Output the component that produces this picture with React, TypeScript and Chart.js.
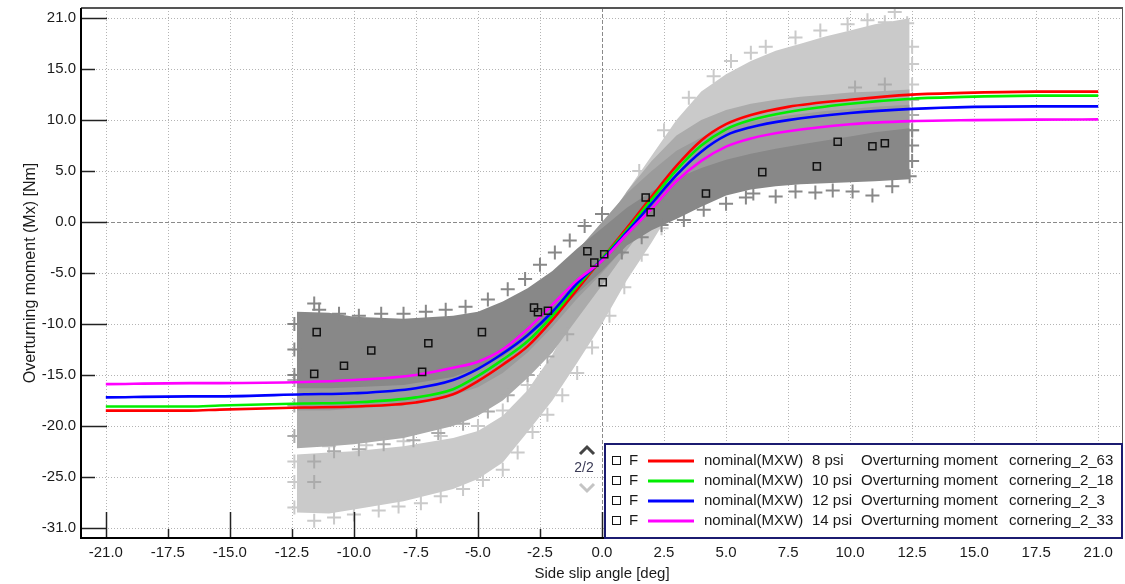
import React, { useEffect, useRef } from 'react';
import { Chart, registerables } from 'chart.js';

Chart.register(...registerables);

const FONT = '"Liberation Sans", Arial, sans-serif';

// ---- axis ticks ----
const X_TICKS = [-20, -17.5, -15, -12.5, -10, -7.5, -5, -2.5, 0, 2.5, 5, 7.5, 10, 12.5, 15, 17.5, 20];
const X_TICK_LABELS = ['-21.0', '-17.5', '-15.0', '-12.5', '-10.0', '-7.5', '-5.0', '-2.5', '0.0', '2.5', '5.0', '7.5', '10.0', '12.5', '15.0', '17.5', '21.0'];
const Y_TICKS = [-30, -25, -20, -15, -10, -5, 0, 5, 10, 15, 20];
const Y_TICK_LABELS = ['-31.0', '-25.0', '-20.0', '-15.0', '-10.0', '-5.0', '0.0', '5.0', '10.0', '15.0', '21.0'];

// ---- fitted curves ----
const CURVE_X = [-20, -16.6, -15.4, -12, -10, -7.5, -6, -5, -4, -3, -2, -1, 0, 1, 2, 3, 4, 5, 6, 7.5, 10, 12.5, 15, 17.5, 20];
const RED_8PSI = [-18.5, -18.5, -18.4, -18.2, -18.1, -17.7, -16.9, -15.6, -14.0, -12.2, -9.6, -6.6, -3.6, -0.6, 2.5, 5.5, 8.0, 9.6, 10.5, 11.3, 12.0, 12.5, 12.7, 12.8, 12.8];
const GREEN_10PSI = [-18.1, -18.1, -18.0, -17.8, -17.7, -17.2, -16.4, -15.1, -13.5, -11.7, -9.2, -6.3, -3.6, -0.8, 2.2, 5.1, 7.5, 9.1, 10.0, 10.8, 11.6, 12.1, 12.3, 12.4, 12.4];
const BLUE_12PSI = [-17.2, -17.1, -17.1, -16.9, -16.8, -16.3, -15.5, -14.4, -12.9, -11.1, -8.8, -6.0, -3.7, -1.0, 1.8, 4.6, 6.9, 8.5, 9.3, 10.0, 10.7, 11.1, 11.3, 11.35, 11.35];
const MAGENTA_14PSI = [-15.9, -15.8, -15.8, -15.7, -15.5, -15.0, -14.3, -13.7, -12.5, -10.5, -8.1, -5.7, -3.8, -1.2, 1.3, 4.0, 6.0, 7.4, 8.2, 8.9, 9.6, 9.9, 10.0, 10.05, 10.07];

// ---- measured clouds (envelopes) ----
const CLOUD_X = [-12.3, -11, -10, -8, -6, -5, -4, -3, -2, -1, 0, 1, 2, 3, 4, 5, 6, 7, 8, 9, 10, 11, 12.4];
const LIGHT_LOW = [-28.5, -28.6, -28.2, -27.4, -26.2, -25.2, -23.6, -20.6, -17.5, -13.8, -10.0, -5.7, -2.0, 2.0, 5.5, 8.0, 9.5, 10.5, 11.0, 11.3, 11.5, 11.8, 12.0];
const LIGHT_HIGH = [-22.8, -22.6, -22.5, -22.0, -21.2, -20.5, -19.0, -16.5, -13.0, -8.5, -2.0, 3.0, 6.5, 10.0, 12.8, 14.5, 15.8, 16.8, 17.5, 18.2, 18.8, 19.4, 20.0];
const MID_LOW = [-22.2, -22.0, -21.8, -21.2, -20.0, -19.0, -17.5, -15.3, -12.8, -9.5, -6.2, -2.8, 0.5, 3.0, 5.0, 6.5, 7.5, 8.0, 8.5, 8.8, 9.0, 9.3, 9.5];
const MID_HIGH = [-14.5, -14.5, -14.5, -14.3, -13.5, -12.7, -11.3, -9.3, -6.8, -3.8, -0.5, 3.0, 6.0, 8.5, 10.0, 11.0, 11.6, 12.0, 12.3, 12.5, 12.7, 12.8, 13.0];
const MIDDARK_LOW = [-18.5, -18.5, -18.3, -18.0, -17.0, -16.2, -14.8, -12.8, -10.3, -7.5, -5.0, -2.2, 0.5, 2.5, 4.0, 5.0, 5.6, 6.1, 6.5, 6.8, 7.0, 7.3, 7.5];
const MIDDARK_HIGH = [-11.5, -11.5, -11.5, -11.3, -10.8, -10.2, -9.2, -7.5, -5.3, -2.8, 0.0, 2.8, 5.0, 7.0, 8.3, 9.3, 9.9, 10.3, 10.6, 10.9, 11.1, 11.3, 11.5];
const DARK_LOW = [-16.3, -16.3, -16.2, -16.0, -15.2, -14.3, -13.2, -11.3, -9.3, -7.0, -4.8, -2.3, -0.8, 0.3, 1.5, 2.6, 3.2, 3.5, 3.7, 3.8, 3.9, 4.0, 4.2];
const DARK_HIGH = [-8.8, -8.9, -9.3, -9.5, -9.2, -8.8, -7.8, -6.5, -4.8, -2.6, -0.6, 1.4, 3.0, 4.3, 5.3, 6.1, 6.7, 7.2, 7.6, 8.0, 8.4, 8.8, 9.2];

// ---- stray measurement crosses at cloud edges ----
const LIGHT_CROSS_X = [1.5, 2.5, 3.5, 4.5, 5.2, 6.0, 6.6, 7.8, 8.8, 9.9, 10.7, 11.8, 11.4, 12.3, 12.5, 12.5, 12.5,
  -12.4, -12.4, -12.4, -11.6, -10.8, -10.0, -9.0, -8.2, -7.3, -6.5, -5.6, -4.8, -4.0, -3.4, -2.8, -2.2, -1.6, -1.0, -0.4, 0.3, 0.9, 1.6, 2.4,
  -11.0, -9.5, -8.0, -6.5, -5.0, -4.0, -3.0];
const LIGHT_CROSS_Y = [5.0, 9.0, 12.2, 14.3, 15.8, 16.6, 17.2, 18.1, 18.8, 19.4, 19.8, 20.6, 19.6, 19.5, 17.2, 15.5, 13.5,
  -28.0, -25.5, -23.5, -29.3, -29.0, -28.7, -28.3, -27.9, -27.6, -26.9, -26.2, -25.3, -24.3, -22.6, -20.6, -18.9, -17.0, -14.8, -12.3, -9.2, -6.4, -3.2, -0.6,
  -22.0, -21.9, -21.5, -21.0, -20.0, -18.5, -16.0];
const MID_CROSS_X = [-12.4, -12.4, -11.6, -11.6, -10.8, -9.8, -8.8, -7.6, -6.6, -5.6, -4.6, -3.8, -3.0, -2.2, -1.4, 12.5, 12.5, 11.4, 12.5, 10.2, -12.4];
const MID_CROSS_Y = [-21.0, -18.0, -23.5, -25.5, -22.5, -22.3, -21.8, -21.4, -20.7, -19.8, -18.6, -17.0, -15.0, -13.2, -11.0, 12.0, 10.5, 13.5, 9.0, 13.2, -15.5];
const DARK_CROSS_X = [-12.4, -12.4, -12.4, -11.6, -11.4, -10.6, -9.8, -8.9, -8.0, -7.1, -6.3, -5.5, -4.6, -3.8, -3.1, -2.5, -1.9, -1.3, -0.7, 0.0,
  0.8, 1.6, 2.4, 3.3, 4.1, 5.0, 5.8, 6.1, 7.0, 7.8, 8.6, 9.3, 10.1, 10.9, 11.7, 12.4, 12.5, 12.5, 12.5];
const DARK_CROSS_Y = [-10.0, -12.5, -15.0, -8.0, -8.6, -9.0, -9.2, -9.0, -9.0, -8.8, -8.6, -8.3, -7.6, -6.6, -5.6, -4.2, -3.0, -1.8, -0.4, 0.8,
  -3.0, -1.5, -0.3, 0.2, 1.2, 1.8, 2.4, 2.8, 2.5, 3.0, 2.9, 3.1, 3.0, 2.6, 3.5, 4.5, 6.0, 7.5, 9.0];

// ---- marked points (squares) ----
const SQUARE_X = [-11.5, -11.6, -10.4, -9.3, -7.0, -7.25, -4.84, -2.74, -2.58, -2.18, -0.59, -0.31, 0.09, 0.03, 1.76, 1.96, 4.19, 6.46, 8.66, 9.5, 10.9, 11.4];
const SQUARE_Y = [-10.8, -14.9, -14.1, -12.6, -11.9, -14.7, -10.8, -8.4, -8.85, -8.7, -2.86, -3.98, -3.16, -5.9, 2.4, 0.96, 2.8, 4.9, 5.46, 7.87, 7.43, 7.73];

// ---- legend text ----
const SERIES_MODEL = ['nominal(MXW)', 'nominal(MXW)', 'nominal(MXW)', 'nominal(MXW)'];
const SERIES_PRESSURE = ['8 psi', '10 psi', '12 psi', '14 psi'];
const SERIES_QUANTITY = 'Overturning moment';
const SERIES_RUN = ['cornering_2_63', 'cornering_2_18', 'cornering_2_3', 'cornering_2_33'];
const SERIES_COLORS = ['#ff0000', '#00ee00', '#0000ff', '#ff00ff'];
const SERIES_VALUES = [RED_8PSI, GREEN_10PSI, BLUE_12PSI, MAGENTA_14PSI];

const CLOUD_COLORS = { light: '#cacaca', mid: '#ababab', middark: '#9b9b9b', dark: '#888888' };

const pts = (xs: number[], ys: number[]) => xs.map((x, i) => ({ x, y: ys[i] }));

const band = (low: number[], high: number[], color: string, order: number, label: string) => [
  {
    label: label + '_low',
    data: pts(CLOUD_X, low),
    borderColor: 'rgba(0,0,0,0)',
    borderWidth: 0,
    pointRadius: 0,
    fill: false,
    tension: 0,
    order,
  },
  {
    label: label + '_high',
    data: pts(CLOUD_X, high),
    borderColor: 'rgba(0,0,0,0)',
    backgroundColor: color,
    borderWidth: 0,
    pointRadius: 0,
    fill: '-1',
    tension: 0,
    order,
  },
];

const crosses = (xs: number[], ys: number[], color: string, order: number, label: string) => ({
  label,
  data: pts(xs, ys),
  showLine: false,
  pointStyle: 'cross',
  pointRadius: 7,
  pointBorderWidth: 2,
  pointBorderColor: color,
  borderColor: color,
  order,
});

const decorPlugin = {
  id: 'decor',
  beforeDatasetsDraw(chart: any) {
    const { ctx, chartArea } = chart;
    const { left, right, top, bottom } = chartArea;
    const xs = chart.scales.x;
    const ys = chart.scales.y;
    ctx.save();
    ctx.lineWidth = 1;
    X_TICKS.forEach((v) => {
      const px = Math.round(xs.getPixelForValue(v)) + 0.5;
      ctx.beginPath();
      if (v === 0) {
        ctx.strokeStyle = '#8a8a8a';
        ctx.setLineDash([4, 2]);
      } else {
        ctx.strokeStyle = '#b4b4b4';
        ctx.setLineDash([1, 2]);
      }
      ctx.moveTo(px, top);
      ctx.lineTo(px, bottom);
      ctx.stroke();
    });
    Y_TICKS.forEach((v) => {
      const py = Math.round(ys.getPixelForValue(v)) + 0.5;
      ctx.beginPath();
      if (v === 0) {
        ctx.strokeStyle = '#8a8a8a';
        ctx.setLineDash([4, 2]);
      } else {
        ctx.strokeStyle = '#b4b4b4';
        ctx.setLineDash([1, 2]);
      }
      ctx.moveTo(left, py);
      ctx.lineTo(right, py);
      ctx.stroke();
    });
    ctx.restore();
  },
  afterDatasetsDraw(chart: any) {
    const { ctx, chartArea } = chart;
    const { left, right, top, bottom } = chartArea;
    const xs = chart.scales.x;
    const ys = chart.scales.y;
    ctx.save();
    ctx.setLineDash([]);
    ctx.strokeStyle = '#222';
    ctx.lineWidth = 1.5;
    X_TICKS.forEach((v) => {
      const px = Math.round(xs.getPixelForValue(v)) + 0.5;
      const len = Math.abs(v % 5) < 1e-9 ? 26 : 9;
      ctx.beginPath();
      ctx.moveTo(px, bottom);
      ctx.lineTo(px, bottom - len);
      ctx.stroke();
    });
    Y_TICKS.forEach((v) => {
      const py = Math.round(ys.getPixelForValue(v)) + 0.5;
      const len = Math.abs(v % 10) < 1e-9 ? 26 : 14;
      ctx.beginPath();
      ctx.moveTo(left, py);
      ctx.lineTo(left + len, py);
      ctx.stroke();
    });
    ctx.strokeStyle = '#555';
    ctx.lineWidth = 2;
    ctx.beginPath();
    ctx.moveTo(left, top);
    ctx.lineTo(right, top);
    ctx.stroke();
    ctx.lineWidth = 1;
    ctx.beginPath();
    ctx.moveTo(right - 0.5, top);
    ctx.lineTo(right - 0.5, bottom);
    ctx.stroke();
    ctx.strokeStyle = '#000';
    ctx.lineWidth = 2;
    ctx.beginPath();
    ctx.moveTo(left, top);
    ctx.lineTo(left, bottom);
    ctx.lineTo(right, bottom);
    ctx.stroke();
    ctx.restore();
  },
  afterDraw(chart: any) {
    const { ctx, chartArea } = chart;
    const boxL = 604;
    const boxT = 443;
    const boxR = chartArea.right;
    const boxB = chartArea.bottom;
    ctx.save();
    ctx.setLineDash([]);
    ctx.fillStyle = '#ffffff';
    ctx.fillRect(boxL, boxT, boxR - boxL, boxB - boxT);
    ctx.strokeStyle = '#1b1b70';
    ctx.lineWidth = 2;
    ctx.strokeRect(boxL + 1, boxT + 1, boxR - boxL - 2, boxB - boxT - 1);
    ctx.font = '15px ' + FONT;
    ctx.textBaseline = 'middle';
    ctx.textAlign = 'left';
    for (let i = 0; i < 4; i++) {
      const y = 461 + i * 20;
      ctx.strokeStyle = '#111';
      ctx.lineWidth = 1;
      ctx.strokeRect(612.5, Math.round(y) - 4.5, 8, 8);
      ctx.fillStyle = '#1a1a1a';
      ctx.fillText('F', 629, y);
      ctx.strokeStyle = SERIES_COLORS[i];
      ctx.lineWidth = 3;
      ctx.beginPath();
      ctx.moveTo(648, Math.round(y));
      ctx.lineTo(694, Math.round(y));
      ctx.stroke();
      ctx.fillStyle = '#1a1a1a';
      ctx.fillText(SERIES_MODEL[i], 704, y);
      ctx.fillText(SERIES_PRESSURE[i], 812, y);
      ctx.fillText(SERIES_QUANTITY, 861, y);
      ctx.fillText(SERIES_RUN[i], 1009, y);
    }
    ctx.lineWidth = 3;
    ctx.strokeStyle = '#444';
    ctx.beginPath();
    ctx.moveTo(580, 454);
    ctx.lineTo(587, 447);
    ctx.lineTo(594, 454);
    ctx.stroke();
    ctx.strokeStyle = '#c4c4c4';
    ctx.beginPath();
    ctx.moveTo(580, 484);
    ctx.lineTo(587, 491);
    ctx.lineTo(594, 484);
    ctx.stroke();
    ctx.fillStyle = '#3a3a55';
    ctx.font = '14px ' + FONT;
    ctx.textAlign = 'center';
    ctx.fillText('2/2', 584, 468);
    ctx.restore();
  },
};

export default function App() {
  const canvasRef = useRef<HTMLCanvasElement | null>(null);

  useEffect(() => {
    const canvas = canvasRef.current;
    if (!canvas) return;

    const curveDatasets = SERIES_VALUES.map((vals, i) => ({
      label: SERIES_MODEL[i] + ' ' + SERIES_PRESSURE[i],
      data: pts(CURVE_X, vals),
      borderColor: SERIES_COLORS[i],
      borderWidth: 2.6,
      pointRadius: 0,
      fill: false,
      cubicInterpolationMode: 'monotone',
      order: 40 - i * 10,
    }));

    const datasets: any[] = [
      ...band(LIGHT_LOW, LIGHT_HIGH, CLOUD_COLORS.light, 100, 'light'),
      crosses(LIGHT_CROSS_X, LIGHT_CROSS_Y, CLOUD_COLORS.light, 99, 'light_x'),
      ...band(MID_LOW, MID_HIGH, CLOUD_COLORS.mid, 90, 'mid'),
      crosses(MID_CROSS_X, MID_CROSS_Y, CLOUD_COLORS.mid, 89, 'mid_x'),
      ...band(MIDDARK_LOW, MIDDARK_HIGH, CLOUD_COLORS.middark, 80, 'middark'),
      ...band(DARK_LOW, DARK_HIGH, CLOUD_COLORS.dark, 70, 'dark'),
      crosses(DARK_CROSS_X, DARK_CROSS_Y, CLOUD_COLORS.dark, 69, 'dark_x'),
      ...curveDatasets,
      {
        label: 'points',
        data: pts(SQUARE_X, SQUARE_Y),
        showLine: false,
        pointStyle: 'rect',
        pointRadius: 5,
        pointBorderWidth: 1.5,
        pointBorderColor: '#111',
        pointBackgroundColor: 'rgba(0,0,0,0)',
        order: 0,
      },
    ];

    const chart = new Chart(canvas, {
      type: 'line',
      data: { datasets },
      options: {
        responsive: false,
        animation: false,
        events: [],
        layout: { autoPadding: false, padding: { top: 8, right: 2, left: 0, bottom: 0 } },
        plugins: {
          legend: { display: false },
          tooltip: { enabled: false },
        },
        scales: {
          x: {
            type: 'linear',
            min: -21,
            max: 21,
            afterBuildTicks: (s: any) => {
              s.ticks = X_TICKS.map((v) => ({ value: v }));
            },
            afterFit: (s: any) => {
              s.height = 46;
              s.paddingLeft = 0;
              s.paddingRight = 0;
            },
            grid: { display: false, drawTicks: false },
            border: { display: false },
            ticks: {
              autoSkip: false,
              maxRotation: 0,
              padding: 6,
              color: '#1a1a1a',
              font: { family: FONT, size: 15 },
              callback: (_v: any, i: number) => X_TICK_LABELS[i],
            },
            title: {
              display: true,
              text: 'Side slip angle [deg]',
              color: '#1a1a1a',
              font: { family: FONT, size: 15 },
              padding: { top: 0, bottom: 1 },
            },
          },
          y: {
            type: 'linear',
            min: -31,
            max: 21,
            afterBuildTicks: (s: any) => {
              s.ticks = Y_TICKS.map((v) => ({ value: v }));
            },
            afterFit: (s: any) => {
              s.width = 81;
              s.paddingTop = 0;
              s.paddingBottom = 0;
            },
            grid: { display: false, drawTicks: false },
            border: { display: false },
            ticks: {
              autoSkip: false,
              padding: 5,
              color: '#1a1a1a',
              font: { family: FONT, size: 15 },
              callback: (_v: any, i: number) => Y_TICK_LABELS[i],
            },
            title: {
              display: true,
              text: 'Overturning moment (Mx) [Nm]',
              color: '#1a1a1a',
              font: { family: FONT, size: 16 },
              padding: { top: 21, bottom: 0 },
            },
          },
        },
      } as any,
      plugins: [decorPlugin],
    });

    return () => chart.destroy();
  }, []);

  return (
    <div style={{ position: 'fixed', left: 0, top: 0, width: 1125, height: 584, background: '#fff' }}>
      <canvas ref={canvasRef} width={1125} height={584} style={{ width: 1125, height: 584, display: 'block' }} />
    </div>
  );
}
